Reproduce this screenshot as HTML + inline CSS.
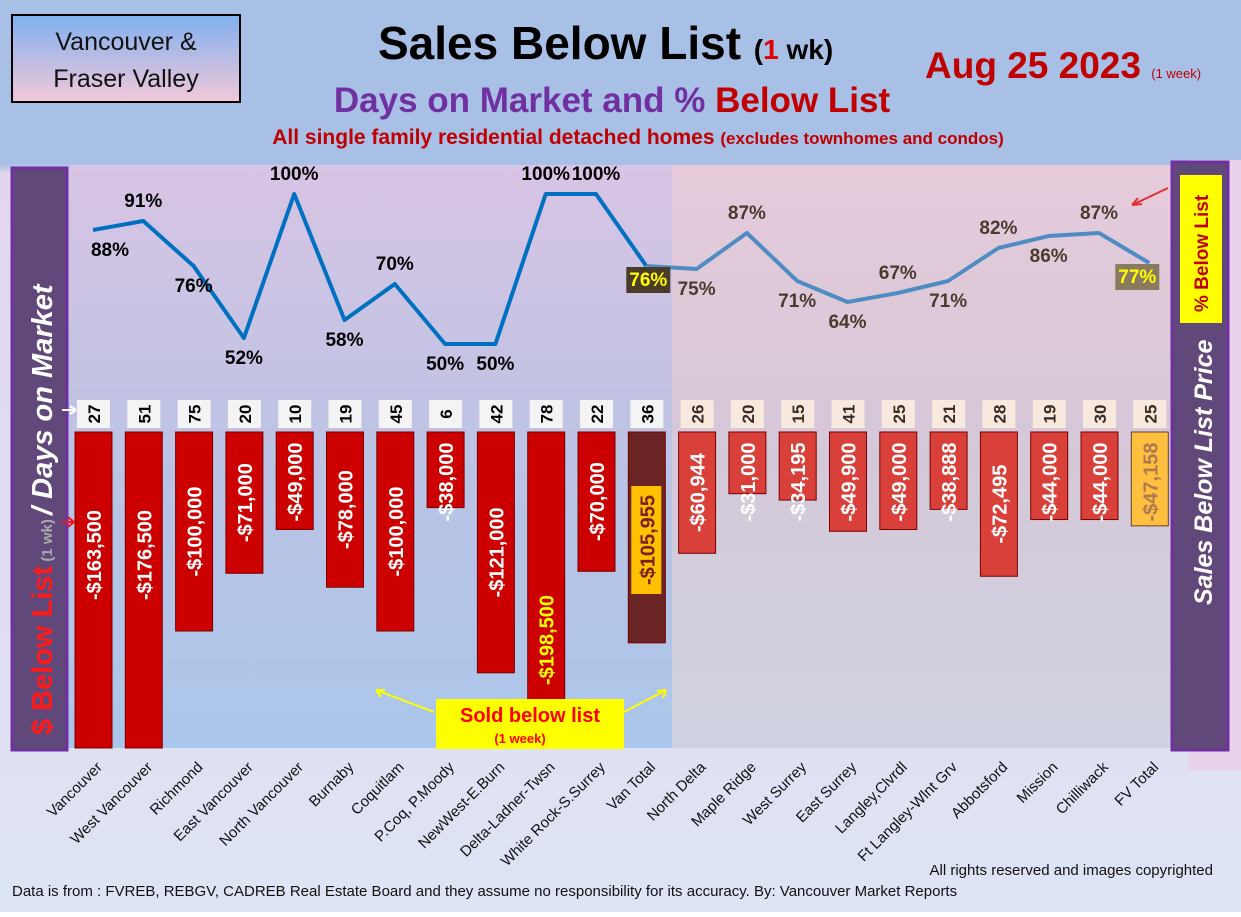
<!DOCTYPE html>
<html><head><meta charset="utf-8"><style>
body{margin:0;width:1241px;height:912px;overflow:hidden;font-family:"Liberation Sans",sans-serif;}
</style></head><body>
<svg width="1241" height="912" xmlns="http://www.w3.org/2000/svg" font-family="Liberation Sans, sans-serif">
<defs>
<linearGradient id="bg" x1="0" y1="0" x2="0" y2="1"><stop offset="0" stop-color="#a8bfe6"/><stop offset="0.18" stop-color="#a8bfe6"/><stop offset="0.19" stop-color="#e2d6ec"/><stop offset="1" stop-color="#dde4f4"/></linearGradient>
<linearGradient id="lp" x1="0" y1="0" x2="0" y2="1"><stop offset="0" stop-color="#d8c4e4"/><stop offset="0.5" stop-color="#bcc3e4"/><stop offset="1" stop-color="#aac6ea"/></linearGradient>
<linearGradient id="rp" x1="0" y1="0" x2="0" y2="1"><stop offset="0" stop-color="#e6cada"/><stop offset="0.5" stop-color="#d4c8d8"/><stop offset="1" stop-color="#cfd2e0"/></linearGradient>
<linearGradient id="tl" x1="0" y1="0" x2="0" y2="1"><stop offset="0" stop-color="#7fb0f0"/><stop offset="1" stop-color="#f2c8d8"/></linearGradient>
</defs>
<rect width="1241" height="912" fill="url(#bg)"/>
<rect x="1188" y="160" width="53" height="610" fill="#e8d2ec"/>
<rect x="12" y="15" width="228" height="87" fill="url(#tl)" stroke="#000" stroke-width="2"/>
<text x="126" y="50" font-size="25" text-anchor="middle" fill="#111">Vancouver &amp;</text>
<text x="126" y="87" font-size="25" text-anchor="middle" fill="#111">Fraser Valley</text>
<text x="378" y="59" font-size="46" font-weight="bold" fill="#000">Sales Below List <tspan font-size="28">(<tspan fill="#e00000">1</tspan> wk)</tspan></text>
<text x="612" y="112" font-size="35" font-weight="bold" text-anchor="middle" fill="#7030a0">Days on Market and % <tspan fill="#c00000">Below List</tspan></text>
<text x="638" y="144" font-size="21" font-weight="bold" text-anchor="middle" fill="#c00000">All single family residential detached homes <tspan font-size="17">(excludes townhomes and condos)</tspan></text>
<text x="925" y="78" font-size="37" font-weight="bold" fill="#c00000">Aug 25  2023 <tspan font-size="13" font-weight="normal">(1 week)</tspan></text>
<rect x="68" y="165" width="604" height="583" fill="url(#lp)"/>
<rect x="672" y="165" width="500" height="583" fill="url(#rp)"/>
<rect x="12" y="168" width="55" height="582" fill="#60497a" stroke="#7030a0" stroke-width="3"/>
<text transform="translate(52,735) rotate(-90)" font-size="29" font-weight="bold" font-style="italic" fill="#fff"><tspan fill="#ff1a1a" font-style="normal">$ Below List</tspan><tspan font-size="15" fill="#aaa" font-style="normal"> (1 wk) </tspan> / Days on Market</text>
<rect x="1172" y="162" width="56" height="588" fill="#60497a" stroke="#7030a0" stroke-width="3"/>
<text transform="translate(1212,605) rotate(-90)" font-size="25" font-weight="bold" font-style="italic" fill="#fff">Sales Below List Price</text>
<rect x="1180" y="175" width="42" height="148" fill="#ffff00"/>
<text transform="translate(1208,312) rotate(-90)" font-size="19" font-weight="bold" fill="#c00000">% Below List</text>
<path d="M1168 188 L1132 205 M1132 205 l10 -1 M1132 205 l6 -7" stroke="#e03030" stroke-width="2" fill="none"/>
<path d="M62 410 L76 410 M76 410 l-6 -4 M76 410 l-6 4" stroke="#fff" stroke-width="2"/>
<path d="M62 522 L74 522 M74 522 l-6 -5 M74 522 l-6 5" stroke="#ff1010" stroke-width="2"/>
<g id="marks"></g>
<rect x="436" y="699" width="188" height="50" fill="#ffff00"/>
<text x="530" y="722" font-size="20" font-weight="bold" text-anchor="middle" fill="#ff0000">Sold below list</text>
<text x="520" y="743" font-size="13" font-weight="bold" text-anchor="middle" fill="#ff0000">(1 week)</text>
<path d="M434 712 L376 690 M376 690 l9 0 M376 690 l5 7 M624 712 L666 690 M666 690 l-9 1 M666 690 l-3 8" stroke="#ffff00" stroke-width="2" fill="none"/>
<text x="1213" y="875" font-size="15" text-anchor="end" fill="#111">All rights reserved and  images copyrighted</text>
<text x="12" y="896" font-size="15" fill="#111">Data is from : FVREB, REBGV, CADREB Real Estate Board and they assume no responsibility for its accuracy. By: Vancouver Market Reports</text>
</svg>
<script>
const categories=["Vancouver","West Vancouver","Richmond","East Vancouver","North Vancouver","Burnaby","Coquitlam","P.Coq, P.Moody","NewWest-E.Burn","Delta-Ladner-Twsn","White Rock-S.Surrey","Van Total","North Delta","Maple Ridge","West Surrey","East Surrey","Langley,Clvrdl","Ft Langley-Wlnt Grv","Abbotsford","Mission","Chilliwack","FV Total"];
const pctBelow=[88,91,76,52,100,58,70,50,50,100,100,76,75,87,71,64,67,71,82,86,87,77];
const days=[27,51,75,20,10,19,45,6,42,78,22,36,26,20,15,41,25,21,28,19,30,25];
const dollarsBelow=[163500,176500,100000,71000,49000,78000,100000,38000,121000,198500,70000,105955,60944,31000,34195,49900,49000,38888,72495,44000,44000,47158];
const labelAbove=[0,1,0,0,1,0,1,0,0,1,1,0,0,1,0,0,1,0,1,0,1,0];
const NS="http://www.w3.org/2000/svg";
const g=document.getElementById('marks');
const xC=i=>93+i*50.3;
const yP=p=>194+(100-p)*3;
const bTop=432,bMax=748;
const yD=v=>Math.min(bMax,bTop+v/1000*1.99);
function mk(t,a){const e=document.createElementNS(NS,t);for(const k in a)e.setAttribute(k,a[k]);g.appendChild(e);return e;}
const fmt=v=>'-$'+v.toLocaleString('en-US');
categories.forEach((c,i)=>{
 const x=xC(i),left=i<12,tot=(i==11||i==21);
 const box=mk('rect',{x:x-16,y:400,width:33,height:28,fill:left?'#f4f4f4':'#f7e9dd'});
 
 
 const dt=mk('text',{transform:`translate(${x+7},414) rotate(-90)`,'font-size':17,'font-weight':'bold','text-anchor':'middle',fill:left?'#000':'#3a2a20'});
 dt.textContent=days[i];
 
 
 const y2=yD(dollarsBelow[i]);
 const fill=i==11?'#6a2424':(i==21?'#ffc040':(left?'#cc0000':'#d9403a'));
 const bar=mk('rect',{x:x-18,y:bTop,width:37,height:y2-bTop,fill:fill,stroke:i==21?'#6a3c2c':'#7a0000','stroke-width':1});
 
 
 if(i==11){mk('rect',{x:x-15,y:486,width:30,height:108,fill:'#ffc000'});}
 let ly=Math.max(482,bTop+Math.min(y2-bTop,246)/2);
 if(i==9)ly=640; if(i==11)ly=540;
 const bt=mk('text',{transform:`translate(${x+8},${ly}) rotate(-90)`,'font-size':20,'font-weight':'bold','text-anchor':'middle',fill:tot?(i==11?'#7a2020':'#b07a50'):(i==9?'#ffff00':'#fff')});
 bt.textContent=fmt(dollarsBelow[i]);
 
 
 const xl=mk('text',{transform:`translate(${x+10},768) rotate(-45)`,'font-size':15,'text-anchor':'end',fill:'#111'});
 xl.textContent=c;
 
 
});
let p1='',p2='';
pctBelow.forEach((p,i)=>{if(i<=11)p1+=(i?'L':'M')+xC(i)+' '+yP(p);if(i>=11)p2+=(i>11?'L':'M')+xC(i)+' '+yP(p);});
const l1=mk('path',{d:p1,stroke:'#0070c0','stroke-width':4,fill:'none','stroke-linejoin':'round'});


const l2=mk('path',{d:p2,stroke:'#4f8cc4','stroke-width':4,fill:'none','stroke-linejoin':'round'});


pctBelow.forEach((p,i)=>{
 const x=xC(i),y=yP(p),tot=(i==11||i==21);
 let ty=labelAbove[i]?y-14:y+26, tx=x;
 if(i==0)tx=x+17; if(tot){tx=x+(i==11?2:-12);ty=y+20;}
 if(tot){mk('rect',{x:tx-22,y:ty-19,width:44,height:26,fill:i==11?'#4a3c28':'#8a7a60'});}
 const t=mk('text',{x:tx,y:ty,'font-size':19,'font-weight':'bold','text-anchor':'middle',fill:tot?'#ffff00':(i<11?'#000':'#4a3a30')});
 t.textContent=p+'%';
 
 
});
</script>
</body></html>
